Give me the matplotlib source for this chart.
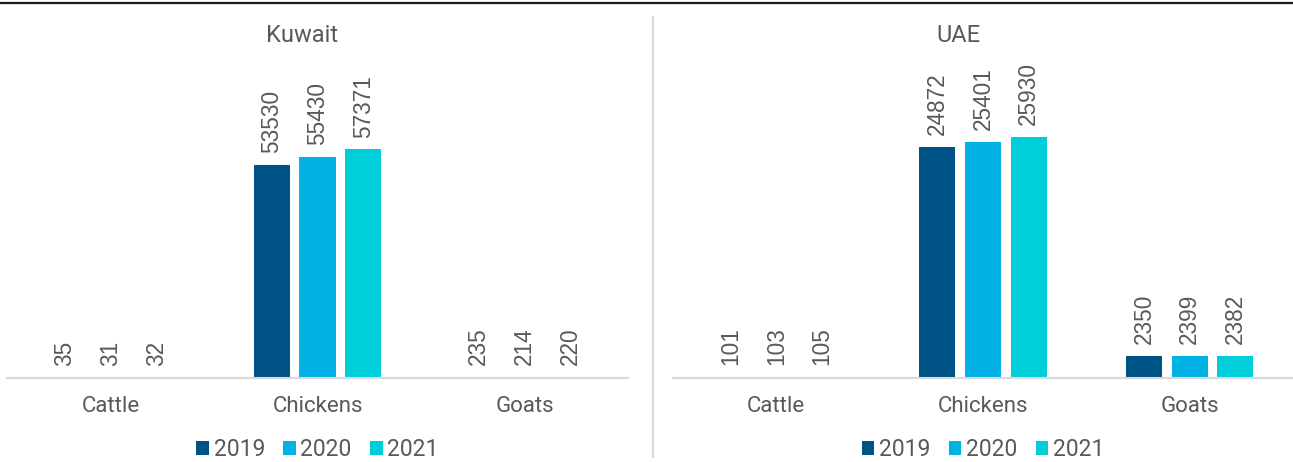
import numpy as np
import matplotlib
matplotlib.use("Agg")
import matplotlib.pyplot as plt
from matplotlib.lines import Line2D

# livestock counts per country, by year
categories = ["Cattle", "Chickens", "Goats"]
years = ["2019", "2020", "2021"]

kuwait_2019 = [35, 53530, 235]
kuwait_2020 = [31, 55430, 214]
kuwait_2021 = [32, 57371, 220]

uae_2019 = [101, 24872, 2350]
uae_2020 = [103, 25401, 2399]
uae_2021 = [105, 25930, 2382]

colors = ["#005385", "#00B3E4", "#00CFD9"]
TEXT = "#595959"
GRID = "#D9D9D9"

plt.rcParams["font.family"] = ["Roboto", "DejaVu Sans"]


def draw_panel(ax, series, ymax):
    x = np.arange(len(categories))
    width = 0.174
    step = 0.221
    for i, (vals, col, yr) in enumerate(zip(series, colors, years)):
        pos = x + (i - 1) * step
        bars = ax.bar(pos, vals, width=width, color=col, label=yr, zorder=2)
        for b, v in zip(bars, vals):
            ax.annotate(str(v), (b.get_x() + b.get_width() / 2, v),
                        xytext=(0, 8.5), textcoords="offset points",
                        rotation=90, ha="center", va="bottom",
                        fontsize=16.3, color=TEXT,
                        family=["Liberation Sans", "DejaVu Sans"])
    ax.set_xlim(-0.5, 2.5)
    ax.set_ylim(0, ymax)
    ax.set_xticks(x)
    ax.set_xticklabels(categories, fontsize=16, color=TEXT)
    ax.tick_params(axis="x", length=0, pad=13)
    ax.set_yticks([])
    for s in ["top", "left", "right"]:
        ax.spines[s].set_visible(False)
    ax.spines["bottom"].set_color(GRID)
    ax.spines["bottom"].set_linewidth(1.5)
    ax.set_facecolor("none")
    leg = ax.legend(loc="center", bbox_to_anchor=(0.5, -0.258), ncol=3,
                    frameon=False, fontsize=16.5, handlelength=0.55,
                    handleheight=0.55, handletextpad=0.2, columnspacing=0.8,
                    borderpad=0)
    for t in leg.get_texts():
        t.set_color(TEXT)


fig = plt.figure(figsize=(12.93, 4.62), dpi=100)

ax1 = fig.add_axes([7 / 1293, 84 / 462, 621 / 1293, 279 / 462])
ax2 = fig.add_axes([673 / 1293, 84 / 462, 620 / 1293, 279 / 462])

draw_panel(ax1, [kuwait_2019, kuwait_2020, kuwait_2021], 70000)
draw_panel(ax2, [uae_2019, uae_2020, uae_2021], 30000)

fig.text(302 / 1293, 1 - 36 / 462, "Kuwait", ha="center", va="center",
         fontsize=17, color=TEXT)
fig.text(958 / 1293, 1 - 36 / 462, "UAE", ha="center", va="center",
         fontsize=17, color=TEXT)

# rule across the top and divider between the two charts
fig.add_artist(Line2D([0, 1292 / 1293], [1 - 3 / 462] * 2,
                      transform=fig.transFigure, color="#1a1a1a", lw=1.6))
fig.add_artist(Line2D([653 / 1293] * 2, [1 - 17 / 462, 1 - 457 / 462],
                      transform=fig.transFigure, color=GRID, lw=1.5))

fig.savefig("out.png", dpi=100, facecolor="white")
